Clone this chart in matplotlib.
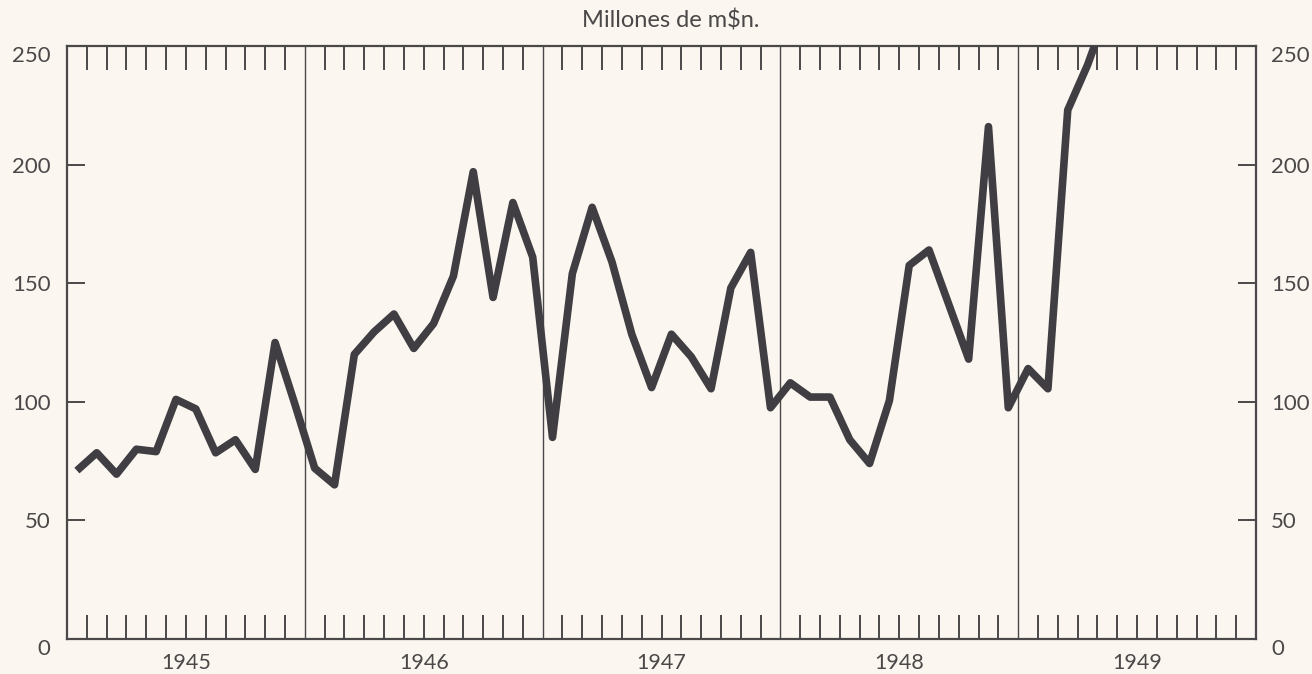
import matplotlib
matplotlib.use("Agg")
import matplotlib.pyplot as plt
import matplotlib.transforms as mtransforms
import numpy as np

# Monthly values, Jan 1945 .. May 1949 (millones de m$n.)
values_1945 = [71, 78.5, 69.5, 80, 79, 101, 97, 78.5, 84, 71.5, 125, 99]
values_1946 = [72, 65, 120, 129.5, 137, 122.5, 133, 153, 197, 144, 184, 161]
values_1947 = [85, 154, 182, 159, 128.5, 106, 128.5, 119, 105.5, 148, 163, 97.5]
values_1948 = [108, 102, 102, 84, 74, 100.5, 157.5, 164, 141, 118, 216, 97.5]
values_1949 = [114, 105.5, 223, 242, 265]

years = ["1945", "1946", "1947", "1948", "1949"]
y_ticks = [0, 50, 100, 150, 200, 250]
title = "Millones de m$n."

values = values_1945 + values_1946 + values_1947 + values_1948 + values_1949
months = np.arange(len(values)) + 0.5   # mid-month positions

bg = "#fbf6f0"
ink = "#403e43"
txt = "#4a4848"

plt.rcParams['font.family'] = ['Lato', 'DejaVu Sans']

fig = plt.figure(figsize=(13.12, 6.74), dpi=100, facecolor=bg)
ax = fig.add_axes([67/1312, 35/674, (1256-67)/1312, (639-46)/674])
ax.set_facecolor(bg)

ax.set_xlim(0, 12 * len(years))
ax.set_ylim(0, 250)

ax.plot(months, values, color=ink, lw=5.5, solid_joinstyle='round',
        solid_capstyle='butt', zorder=3)

# year separators
for k in range(1, len(years)):
    ax.axvline(12 * k, color=txt, lw=1.0, zorder=2)

for s in ax.spines.values():
    s.set_color(txt)
    s.set_linewidth(1.6)

# month ticks
ax.set_xticks([m for m in range(1, 12 * len(years)) if m % 12 != 0])
ax.set_xticklabels([])
ax.tick_params(axis='x', which='major', direction='in', length=17, width=1.4,
               color=txt, top=True, bottom=True, labelbottom=False)

# year labels centred under each year
trans = mtransforms.blended_transform_factory(ax.transData, ax.transAxes)
for k, yr in enumerate(years):
    ax.text(12 * k + 6, -14 / 593, yr, transform=trans, ha='center', va='top',
            fontsize=15.5, color=txt)

# left y axis
ax.set_yticks(y_ticks)
ax.set_yticklabels([str(v) for v in y_ticks])
ax.tick_params(axis='y', which='major', direction='in', length=13, width=1.4,
               color=txt, left=True, right=True, pad=12, labelsize=16, labelcolor=txt)
lbls = ax.get_yticklabels()
lbls[0].set_va('top')
lbls[-1].set_va('top')

# right y axis
ax2 = ax.twinx()
ax2.set_ylim(0, 250)
ax2.set_yticks(y_ticks)
ax2.set_yticklabels([str(v) for v in y_ticks])
ax2.tick_params(axis='y', which='major', direction='in', length=13, width=1.4,
                color=txt, pad=11, labelsize=16, labelcolor=txt)
for s in ax2.spines.values():
    s.set_visible(False)
lbls2 = ax2.get_yticklabels()
lbls2[0].set_va('top')
lbls2[-1].set_va('top')

fig.text(671/1312, 1 - 21/674, title, ha='center', va='center', fontsize=17, color=txt)

fig.savefig("out.png", dpi=100, facecolor=bg)
